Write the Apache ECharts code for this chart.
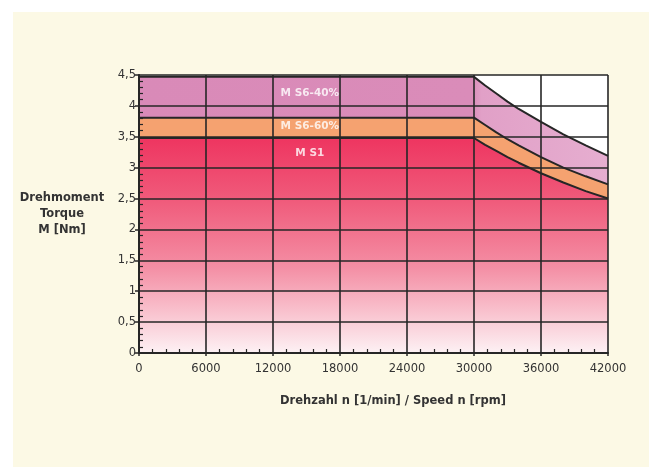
<!DOCTYPE html>
<html>
<head>
<meta charset="utf-8">
<script src="https://cdn.jsdelivr.net/npm/echarts@6/dist/echarts.min.js"></script>
<style>
html,body{margin:0;padding:0;background:#fff;}
#c{width:649px;height:467px;}
</style>
</head>
<body>
<div id="c"></div>
<script>
// Data
var speed = [0, 30000, 31000, 32000, 33000, 34000, 36000, 38000, 40000, 42000];
var torqueS6_40 = [4.47, 4.47, 4.33, 4.20, 4.07, 3.95, 3.74, 3.54, 3.36, 3.19];
var torqueS6_60 = [3.81, 3.81, 3.69, 3.57, 3.46, 3.36, 3.17, 3.00, 2.86, 2.73];
var torqueS1 = [3.48, 3.48, 3.37, 3.27, 3.17, 3.08, 2.91, 2.76, 2.62, 2.50];
var bandLabels = ['M S6-40%', 'M S6-60%', 'M S1'];
var bandLabelPos = [[15300, 4.21], [15300, 3.67], [15300, 3.24]];
var xTicks = [0, 6000, 12000, 18000, 24000, 30000, 36000, 42000];

function pairs(ys) { return speed.map(function (x, i) { return [x, ys[i]]; }); }

var chart = echarts.init(document.getElementById('c'));
var font = 'DejaVu Sans, Liberation Sans, Arial, sans-serif';
var lineDark = '#262626';

chart.setOption({
  backgroundColor: '#ffffff',
  animation: false,
  graphic: [{
    type: 'rect', z: -100, silent: true,
    shape: { x: 13, y: 12, width: 636, height: 455 },
    style: { fill: '#fcf9e5' }
  }],
  grid: { left: 139, right: 41, top: 75, bottom: 114, containLabel: false, show: true, backgroundColor: '#ffffff', borderWidth: 0 },
  xAxis: [{
    type: 'value', min: xTicks[0], max: xTicks[xTicks.length - 1], interval: 6000,
    z: 10,
    axisLine: { show: true, lineStyle: { color: lineDark, width: 2 } },
    axisTick: { show: true, inside: false, length: 3, lineStyle: { color: lineDark, width: 1.5 } },
    splitLine: { show: true, lineStyle: { color: lineDark, width: 1.6 } },
    axisLabel: { color: '#333', fontFamily: font, fontSize: 11.5, margin: 10, formatter: function (v) { return String(v); } },
    name: 'Drehzahl n [1/min] / Speed n [rpm]',
    nameLocation: 'middle', nameGap: 42,
    nameTextStyle: { color: '#333', fontFamily: font, fontSize: 11.5, fontWeight: 'bold', padding: [0, 0, 0, 39] }
  }, {
    type: 'value', min: 0, max: 42000, interval: 6000, position: 'bottom', z: 11,
    axisLine: { show: false },
    axisTick: { show: true, inside: true, length: 0 },
    minorTick: { show: true, splitNumber: 5, length: 4, lineStyle: { color: lineDark, width: 1.2 } },
    axisLabel: { show: false }, splitLine: { show: false }
  }],
  yAxis: [{
    type: 'value', min: 0, max: 4.5, interval: 0.5,
    z: 10,
    axisLine: { show: true, lineStyle: { color: lineDark, width: 2 } },
    axisTick: { show: true, inside: false, length: 4, lineStyle: { color: lineDark, width: 1.5 } },
    splitLine: { show: true, lineStyle: { color: lineDark, width: 1.6 } },
    axisLabel: {
      color: '#333', fontFamily: font, fontSize: 11.5, margin: 3,
      formatter: function (v) { return String(v).replace('.', ','); }
    },
    name: 'Drehmoment\nTorque\nM [Nm]',
    nameLocation: 'middle', nameGap: 77, nameRotate: 0,
    nameTextStyle: { color: '#333', fontFamily: font, fontSize: 11.5, fontWeight: 'bold', lineHeight: 16, align: 'center' }
  }, {
    type: 'value', min: 0, max: 4.5, interval: 0.5, position: 'left', z: 11,
    axisLine: { show: false },
    axisTick: { show: true, inside: true, length: 0 },
    minorTick: { show: true, splitNumber: 5, length: 4, lineStyle: { color: lineDark, width: 1.2 } },
    axisLabel: { show: false }, splitLine: { show: false }
  }],
  series: [{
    name: 'M S6-40%', type: 'line', data: pairs(torqueS6_40), symbol: 'none', z: 2,
    lineStyle: { color: lineDark, width: 2 },
    areaStyle: {
      opacity: 1,
      color: new echarts.graphic.LinearGradient(0, 0, 1, 0, [
        { offset: 0, color: '#d98ab8' }, { offset: 0.71, color: '#da8cb9' },
        { offset: 0.73, color: '#e1a0c7' }, { offset: 1, color: '#e6aed0' }
      ])
    }
  }, {
    name: 'M S6-60%', type: 'line', data: pairs(torqueS6_60), symbol: 'none', z: 3,
    lineStyle: { color: lineDark, width: 2 },
    areaStyle: { opacity: 1, color: '#f5a270' }
  }, {
    name: 'M S1', type: 'line', data: pairs(torqueS1), symbol: 'none', z: 4,
    lineStyle: { color: lineDark, width: 2 },
    areaStyle: {
      opacity: 1,
      color: new echarts.graphic.LinearGradient(0, 0, 0, 1, [
        { offset: 0, color: '#ee3560' }, { offset: 0.3, color: '#f05c7c' },
        { offset: 0.6, color: '#f48ea4' }, { offset: 1, color: '#fdf1f4' }
      ])
    }
  }, {
    type: 'scatter', z: 20, symbolSize: 0,
    data: bandLabelPos.map(function (p, i) { return { value: p, name: bandLabels[i] }; }),
    label: {
      show: true, position: 'inside', formatter: '{b}',
      color: '#ffffff', fontFamily: font, fontSize: 10.5, fontWeight: 'bold'
    }
  }]
});
</script>
</body>
</html>
